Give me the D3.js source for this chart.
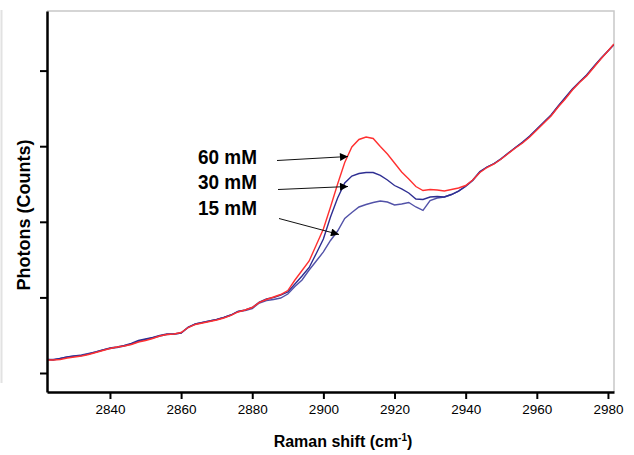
<!DOCTYPE html>
<html>
<head>
<meta charset="utf-8">
<script src="https://cdn.jsdelivr.net/npm/d3@7"></script>
<style>
  body { margin: 0; background: #fff; }
  text { font-family: "Liberation Sans", Arial, Helvetica, sans-serif; }
</style>
</head>
<body>
<div id="chart"></div>
<script>
// Raman shift (cm-1) sample points
var shift = [2822.3, 2824, 2826, 2828, 2830, 2832, 2834, 2836, 2838, 2840,
  2842, 2844, 2846, 2848, 2850, 2852, 2854, 2856, 2858, 2860,
  2862, 2864, 2866, 2868, 2870, 2872, 2874, 2876, 2878, 2880,
  2882, 2884, 2886, 2888, 2890, 2892, 2894, 2896, 2898, 2900,
  2902, 2904, 2906, 2908, 2910, 2912, 2914, 2916, 2918, 2920,
  2922, 2924, 2926, 2928, 2930, 2932, 2934, 2936, 2938, 2940,
  2942, 2944, 2946, 2948, 2950, 2952, 2954, 2956, 2958, 2960,
  2962, 2964, 2966, 2968, 2970, 2972, 2974, 2976, 2978, 2980, 2981.7];

// photon counts (arbitrary scale)
var mM60 = [2172, 2172, 2179, 2198, 2212, 2225, 2245, 2271, 2298, 2324,
  2344, 2357, 2377, 2410, 2430, 2456, 2489, 2509, 2516, 2536,
  2602, 2642, 2661, 2681, 2701, 2728, 2761, 2807, 2833, 2866,
  2933, 2972, 3005, 3038, 3091, 3230, 3356, 3482, 3693, 3905,
  4196, 4500, 4784, 4990, 5089, 5122, 5102, 4996, 4897, 4778,
  4659, 4566, 4467, 4414, 4427, 4421, 4407, 4427, 4447, 4480,
  4553, 4652, 4718, 4765, 4831, 4904, 4976, 5042, 5122, 5214,
  5307, 5400, 5519, 5624, 5744, 5843, 5929, 6041, 6154, 6259, 6352];

var mM30 = [2179, 2172, 2192, 2212, 2225, 2231, 2251, 2278, 2304, 2331,
  2344, 2364, 2390, 2430, 2450, 2470, 2496, 2516, 2516, 2529,
  2608, 2648, 2668, 2688, 2708, 2734, 2767, 2814, 2833, 2866,
  2939, 2979, 2999, 3032, 3071, 3177, 3283, 3396, 3581, 3773,
  4064, 4315, 4513, 4606, 4639, 4652, 4652, 4613, 4553, 4480,
  4434, 4381, 4302, 4295, 4328, 4335, 4328, 4361, 4407, 4474,
  4553, 4665, 4725, 4771, 4837, 4910, 4983, 5056, 5135, 5228,
  5320, 5413, 5532, 5644, 5757, 5849, 5942, 6054, 6160, 6259, 6345];

var mM15 = [2179, 2179, 2192, 2212, 2225, 2238, 2258, 2278, 2304, 2324,
  2337, 2357, 2384, 2417, 2443, 2463, 2489, 2509, 2516, 2529,
  2602, 2648, 2668, 2688, 2708, 2734, 2767, 2814, 2827, 2853,
  2926, 2959, 2972, 2992, 3045, 3144, 3230, 3362, 3482, 3601,
  3753, 3878, 4044, 4123, 4196, 4229, 4255, 4275, 4262, 4222,
  4236, 4255, 4196, 4150, 4281, 4315, 4328, 4361, 4407, 4467,
  4546, 4659, 4725, 4771, 4831, 4910, 4983, 5049, 5128, 5221,
  5314, 5406, 5525, 5638, 5750, 5849, 5935, 6048, 6160, 6259, 6345];

var xTicks = [2840, 2860, 2880, 2900, 2920, 2940, 2960, 2980];
var yTicks = [2000, 3000, 4000, 5000, 6000];

var labels = ["60 mM", "30 mM", "15 mM"];

var width = 634, height = 455;
var margin = {left: 47, right: 614, top: 11, bottom: 392};

var svg = d3.select("#chart")
  .append("svg")
  .attr("width", width)
  .attr("height", height);

var x = d3.scaleLinear()
  .domain([2822.3, 2981.7])
  .range([margin.left, margin.right]);

var y = d3.scaleLinear()
  .domain([1748.7, 6788.4])
  .range([margin.bottom, margin.top]);

// faint panel edge on far left
svg.append("line")
  .attr("x1", 1.5).attr("x2", 1.5)
  .attr("y1", 10).attr("y2", 383)
  .attr("stroke", "#e2e2e2")
  .attr("stroke-width", 2);

// light frame top and right
svg.append("path")
  .attr("d", "M" + margin.left + "," + margin.top + "H" + margin.right + "V" + margin.bottom)
  .attr("fill", "none")
  .attr("stroke", "#c8c8c8")
  .attr("stroke-width", 1.5);

svg.append("clipPath").attr("id", "plot")
  .append("rect")
  .attr("x", margin.left).attr("y", margin.top)
  .attr("width", margin.right - margin.left).attr("height", margin.bottom - margin.top);

var line = function(vals) {
  return d3.line()
    .x(function(d, i) { return x(shift[i]); })
    .y(function(d) { return y(d); })(vals);
};

var g = svg.append("g").attr("clip-path", "url(#plot)");

g.append("path").attr("d", line(mM15))
  .attr("fill", "none").attr("stroke", "#5252a8").attr("stroke-width", 1.4);
g.append("path").attr("d", line(mM30))
  .attr("fill", "none").attr("stroke", "#2e2e92").attr("stroke-width", 1.4);
g.append("path").attr("d", line(mM60))
  .attr("fill", "none").attr("stroke", "#ff3030").attr("stroke-width", 1.4);

// axes
var xAxis = svg.append("g")
  .attr("transform", "translate(0," + margin.bottom + ")")
  .call(d3.axisBottom(x).tickValues(xTicks).tickSize(7).tickSizeOuter(0).tickFormat(d3.format("d")));
xAxis.attr("font-size", 13.5).attr("font-family", "'Liberation Sans', Arial, sans-serif");
xAxis.select(".domain").attr("stroke", "#000").attr("stroke-width", 2.5);
xAxis.selectAll(".tick line").attr("stroke", "#000").attr("stroke-width", 2);
xAxis.selectAll(".tick text")
  .attr("y", 12)
  .attr("fill", "#000");

var yAxis = svg.append("g")
  .attr("transform", "translate(" + margin.left + ",0)")
  .call(d3.axisLeft(y).tickValues(yTicks).tickSize(7).tickSizeOuter(0).tickFormat(""));
yAxis.select(".domain").attr("stroke", "#000").attr("stroke-width", 2.5);
yAxis.selectAll(".tick line").attr("stroke", "#000").attr("stroke-width", 2);

// axis titles
svg.append("text")
  .attr("x", 343)
  .attr("y", 447)
  .attr("text-anchor", "middle")
  .style("font-size", "16px")
  .style("font-weight", "bold")
  .html("Raman shift (cm<tspan dy='-6' font-size='10px'>-1</tspan><tspan dy='6'>)</tspan>");

svg.append("text")
  .attr("transform", "translate(30,215)rotate(-90)")
  .attr("text-anchor", "middle")
  .style("font-size", "18px")
  .style("font-weight", "bold")
  .text("Photons (Counts)");

// annotations with arrows
svg.append("defs").append("marker")
  .attr("id", "head")
  .attr("viewBox", "0 0 10 10")
  .attr("refX", 10).attr("refY", 5)
  .attr("markerWidth", 11).attr("markerHeight", 8)
  .attr("markerUnits", "userSpaceOnUse")
  .attr("orient", "auto")
  .append("path")
  .attr("d", "M0,0L10,5L0,10Z")
  .attr("fill", "#000");

var labelY = [164, 189, 215];
var arrows = [[277, 160.5, 348, 156.5], [278, 189.5, 348, 186.5], [279, 218.5, 339, 234.5]];

labels.forEach(function(t, i) {
  svg.append("text")
    .attr("x", 198)
    .attr("y", labelY[i])
    .attr("textLength", 59)
    .attr("lengthAdjust", "spacingAndGlyphs")
    .style("font-size", "21px")
    .style("font-weight", "bold")
    .text(t);
  svg.append("line")
    .attr("x1", arrows[i][0]).attr("y1", arrows[i][1])
    .attr("x2", arrows[i][2]).attr("y2", arrows[i][3])
    .attr("stroke", "#111")
    .attr("stroke-width", 1)
    .attr("marker-end", "url(#head)");
});
</script>
</body>
</html>
